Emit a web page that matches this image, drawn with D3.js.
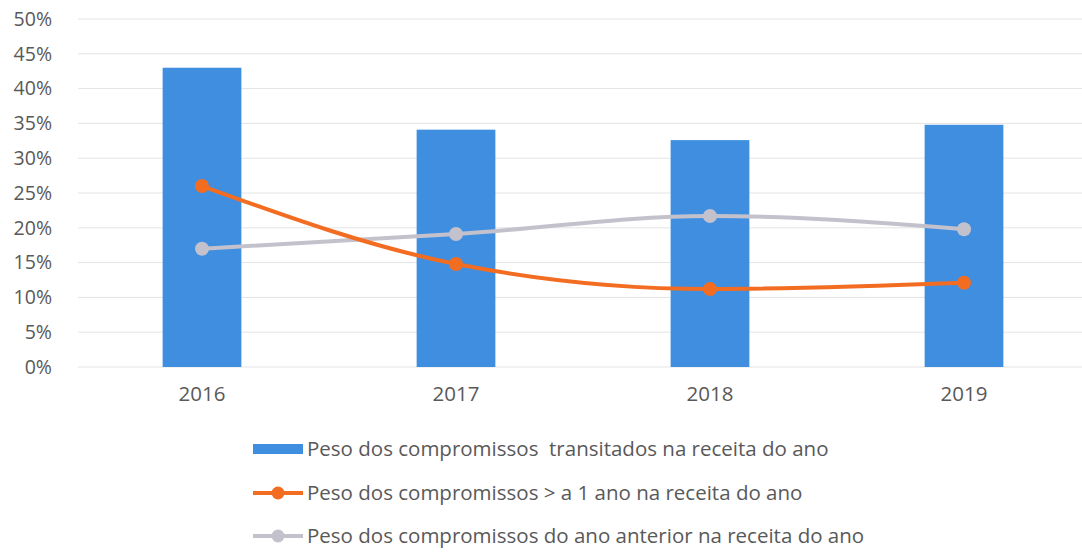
<!DOCTYPE html>
<html>
<head>
<meta charset="utf-8">
<script src="https://cdn.jsdelivr.net/npm/d3@7"></script>
<style>
  body { margin: 0; background: #fff; }
  svg { font-family: "Open Sans", sans-serif; }
</style>
</head>
<body>
<svg id="chart" width="1082" height="553"></svg>
<script>
var years = ["2016", "2017", "2018", "2019"];
var transitados = [0.43, 0.341, 0.326, 0.348];
var maisUmAno = [0.26, 0.148, 0.112, 0.121];
var anoAnterior = [0.17, 0.191, 0.217, 0.198];
var yTicks = [0, 0.05, 0.1, 0.15, 0.2, 0.25, 0.3, 0.35, 0.4, 0.45, 0.5];
var legendLabels = [
  "Peso dos compromissos  transitados na receita do ano",
  "Peso dos compromissos > a 1 ano na receita do ano",
  "Peso dos compromissos do ano anterior na receita do ano"
];

var blue = "#3f8ee0", orange = "#f26d21", grey = "#c3c2cc";

var svg = d3.select("#chart");

var x = d3.scaleBand().domain(years).range([75, 1091]).paddingInner(0.69).paddingOuter(0.345);
var y = d3.scaleLinear().domain([0, 0.5]).range([367, 19]);

// gridlines
svg.append("g")
  .selectAll("line")
  .data(yTicks)
  .join("line")
  .attr("x1", 78).attr("x2", 1082)
  .attr("y1", d => y(d)).attr("y2", d => y(d))
  .attr("stroke", "#e4e4e4").attr("stroke-width", 1);

// y axis labels
var yAxis = svg.append("g")
  .attr("transform", "translate(64,0)")
  .call(d3.axisLeft(y).tickValues(yTicks).tickFormat(d3.format(".0%")).tickSize(0).tickPadding(12));
yAxis.select(".domain").remove();
yAxis.selectAll("text").attr("font-size", 19.5).attr("fill", "#595959").attr("font-family", "Open Sans");

// x axis labels
var xAxis = svg.append("g")
  .attr("transform", "translate(0,367)")
  .call(d3.axisBottom(x).tickSize(0).tickPadding(19));
xAxis.select(".domain").remove();
xAxis.selectAll("text").attr("font-size", 20.5).attr("fill", "#595959").attr("font-family", "Open Sans");

// bars
svg.append("g")
  .selectAll("rect")
  .data(transitados)
  .join("rect")
  .attr("x", (d, i) => x(years[i]))
  .attr("width", x.bandwidth())
  .attr("y", d => y(d))
  .attr("height", d => y(0) - y(d))
  .attr("fill", blue);

var line = d3.line()
  .x((d, i) => x(years[i]) + x.bandwidth() / 2)
  .y(d => y(d))
  .curve(d3.curveMonotoneX);

function drawSeries(values, color) {
  var g = svg.append("g");
  g.append("path")
    .attr("d", line(values))
    .attr("fill", "none")
    .attr("stroke", color)
    .attr("stroke-width", 4)
    .attr("stroke-linecap", "round");
  g.selectAll("circle")
    .data(values)
    .join("circle")
    .attr("cx", (d, i) => x(years[i]) + x.bandwidth() / 2)
    .attr("cy", d => y(d))
    .attr("r", 7)
    .attr("fill", color);
}
drawSeries(anoAnterior, grey);
drawSeries(maisUmAno, orange);

// legend
var legend = svg.append("g").attr("transform", "translate(253,0)");
var rowsY = [449, 493, 536];
var colors = [blue, orange, grey];
legendLabels.forEach(function (label, i) {
  var row = legend.append("g").attr("transform", "translate(0," + rowsY[i] + ")");
  if (i === 0) {
    row.append("rect").attr("x", 0).attr("y", -5).attr("width", 50).attr("height", 10).attr("fill", blue);
  } else {
    row.append("line").attr("x1", 0).attr("x2", 50).attr("y1", 0).attr("y2", 0)
      .attr("stroke", colors[i]).attr("stroke-width", 4);
    row.append("circle").attr("cx", 25).attr("cy", 0).attr("r", 6.5).attr("fill", colors[i]);
  }
  row.append("text")
    .attr("x", 54).attr("y", 0).attr("dy", "0.35em")
    .attr("font-size", 20.5).attr("fill", "#595959")
    .style("white-space", "pre")
    .text(label);
});
</script>
</body>
</html>
